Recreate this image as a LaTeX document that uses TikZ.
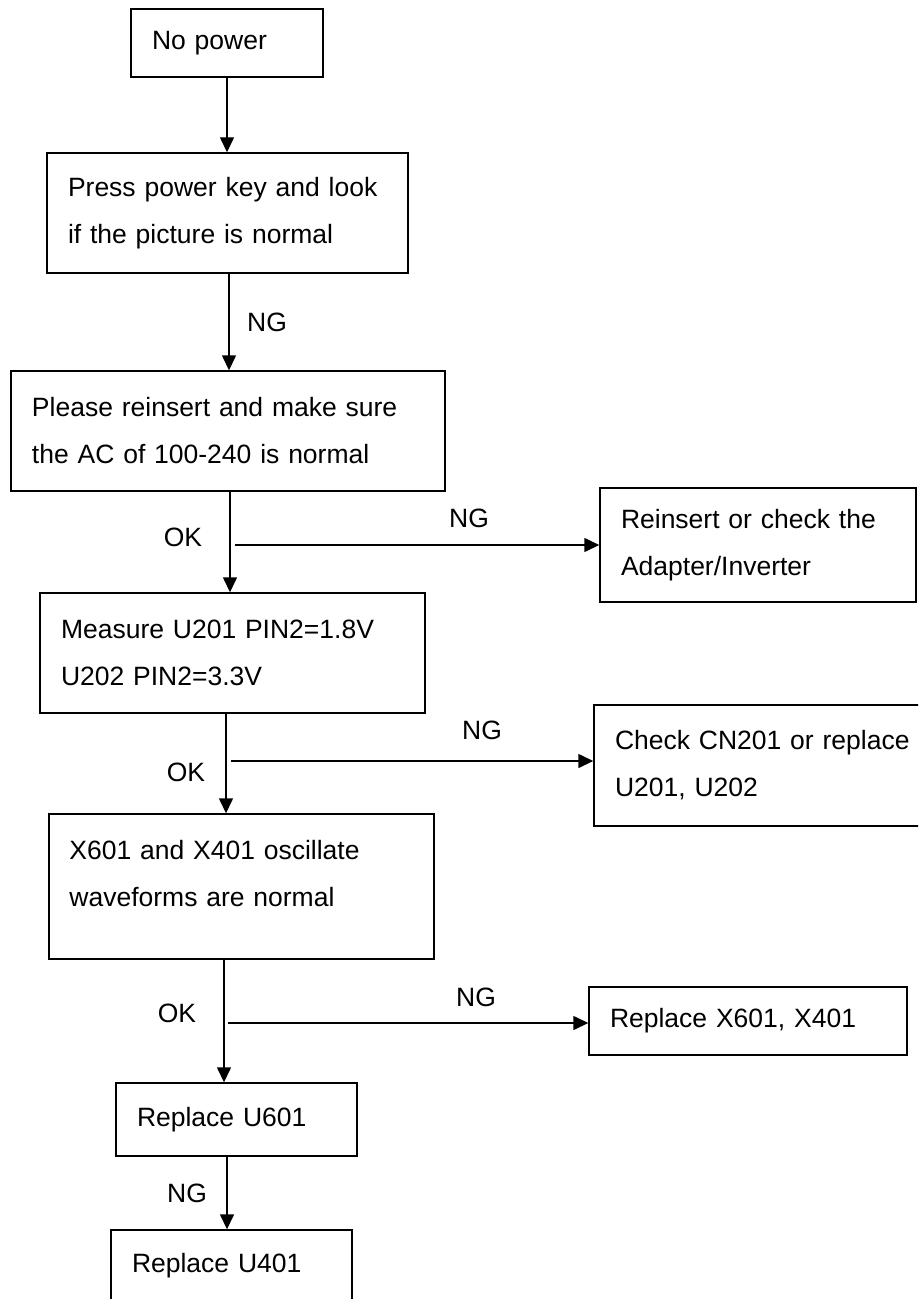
\documentclass[tikz,border=0pt]{standalone}
\usepackage{fontspec}
\setmainfont{Liberation Sans}
\usetikzlibrary{arrows.meta}
\begin{document}
\begin{tikzpicture}[x=0.5pt,y=-0.5pt,
  box/.style={draw, line width=0.7pt, rectangle, inner xsep=10.5pt, inner ysep=0pt, align=left, font=\fontsize{13.25}{23.5}\selectfont},
  txt/.style={inner sep=0pt, align=left, font=\fontsize{13.25}{23.5}\selectfont},
  lbl/.style={inner sep=0pt, font=\fontsize{13.25}{16}\selectfont},
  arr/.style={line width=0.7pt, -{Triangle[length=7.5pt,width=7pt]}}]
\useasboundingbox (0,0) rectangle (918,1299);
\clip (0,0) rectangle (918,1299);
\fill[white] (0,0) rectangle (918,1299);

% boxes
\node[box, minimum width=96pt, minimum height=34pt, text width=75pt] (nopower) at (227,43) {No power};
\node[box, minimum width=180.5pt, minimum height=60pt, text width=159.5pt] (press) at (227.5,213) {Press power key and look\\if the picture is normal};
\node[box, minimum width=217pt, minimum height=60pt, text width=196pt] (please) at (228,431) {Please reinsert and make sure\\the AC of 100-240 is normal};
\node[box, minimum width=158pt, minimum height=57pt, text width=137pt] (adapter) at (758,545) {Reinsert or check the\\Adapter/Inverter};
\node[box, minimum width=192.5pt, minimum height=60pt, text width=171.5pt] (measure) at (232.5,653) {Measure U201 PIN2=1.8V\\U202 PIN2=3.3V};
\node[box, minimum width=173pt, minimum height=60.5pt, text width=152pt] (check) at (767,765.5) {Check CN201 or replace\\U201, U202};
\node[box, minimum width=192.5pt, minimum height=72.5pt] (x601) at (241.5,886.5) {};
\node[txt, anchor=west, text width=171.5pt] (x601t) at (69,874) {X601 and X401 oscillate\\waveforms are normal};
\node[box, minimum width=159pt, minimum height=34pt, text width=138pt] (replx) at (748,1021) {Replace X601, X401};
\node[box, minimum width=120.5pt, minimum height=36.5pt, text width=99.5pt] (u601) at (236.5,1119.5) {Replace U601};
\node[box, minimum width=120.5pt, minimum height=36pt, text width=99.5pt] (u401) at (231.5,1266) {Replace U401};

% column coordinates
\coordinate (v0) at (227,0);
\coordinate (v1) at (229,0);
\coordinate (v2) at (230,0);
\coordinate (v3) at (226,0);
\coordinate (v4) at (224,0);
\coordinate (v5) at (227,0);
\coordinate (b1) at (235,545);
\coordinate (b2) at (231,761);
\coordinate (b3) at (228,1023);

% vertical connectors
\draw[arr] (v0 |- nopower.south) -- (v0 |- press.north);
\draw[arr] (v1 |- press.south) -- (v1 |- please.north);
\draw[arr] (v2 |- please.south) -- (v2 |- measure.north);
\draw[arr] (v3 |- measure.south) -- (v3 |- x601.north);
\draw[arr] (v4 |- x601.south) -- (v4 |- u601.north);
\draw[arr] (v5 |- u601.south) -- (v5 |- u401.north);

% horizontal branches
\draw[arr] (b1) -- (b1 -| adapter.west);
\draw[arr] (b2) -- (b2 -| check.west);
\draw[arr] (b3) -- (b3 -| replx.west);

% labels
\node[lbl] (ng1) at (267,322) {NG};
\node[lbl] (ok1) at (183,537) {OK};
\node[lbl] (ng2) at (469,518) {NG};
\node[lbl] (ok2) at (186,772) {OK};
\node[lbl] (ng3) at (482,730) {NG};
\node[lbl] (ok3) at (177,1013) {OK};
\node[lbl] (ng4) at (476,997) {NG};
\node[lbl] (ng5) at (187,1193) {NG};
\end{tikzpicture}
\end{document}
